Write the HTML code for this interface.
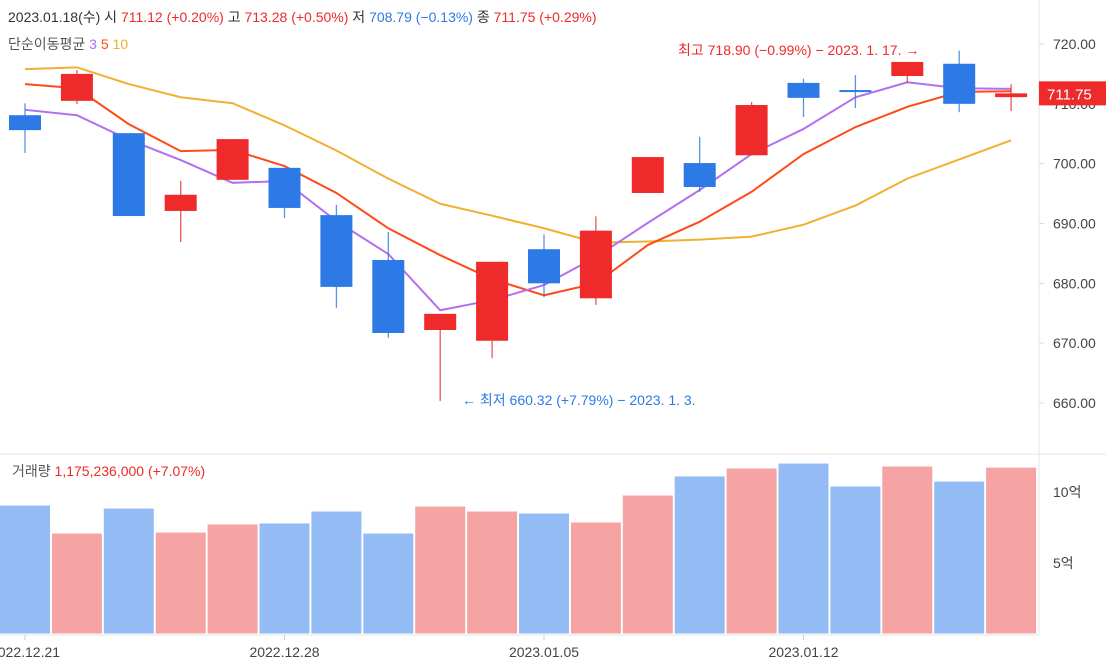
<!DOCTYPE html>
<html><head><meta charset="utf-8"><style>
body{margin:0;background:#fff;}
svg{display:block;font-family:"Liberation Sans","Noto Sans CJK KR",sans-serif;}
</style></head><body>
<svg id="c" width="1106" height="662">
<line x1="0" y1="454" x2="1106" y2="454" stroke="#e6e6e6"/>
<line x1="1039" y1="0" x2="1039" y2="635" stroke="#e6e6e6"/>
<line x1="0" y1="635" x2="1039" y2="635" stroke="#e6e6e6"/>
<g id="vol"></g>
<g id="ma"></g>
<g id="cnd"></g>
<g id="axes"></g>
<text x="8" y="22" font-size="14" fill="#333">2023.01.18(수)  시 <tspan fill="#ee2a2a">711.12 (+0.20%)</tspan> 고 <tspan fill="#ee2a2a">713.28 (+0.50%)</tspan> 저 <tspan fill="#2d7ae6">708.79 (−0.13%)</tspan> 종 <tspan fill="#ee2a2a">711.75 (+0.29%)</tspan></text>
<text x="8" y="49" font-size="14" fill="#555">단순이동평균 <tspan fill="#b070f0">3</tspan> <tspan fill="#ff4a1a">5</tspan> <tspan fill="#f0b030">10</tspan></text>
<text x="12" y="476" font-size="14" fill="#555">거래량  <tspan fill="#ee2a2a">1,175,236,000 (+7.07%)</tspan></text>
<text x="678" y="55" font-size="14" fill="#ee2a2a">최고 718.90 (−0.99%) − 2023. 1. 17. →</text>
<text x="462" y="405" font-size="14" fill="#2d7ae6">← 최저 660.32 (+7.79%) − 2023. 1. 3.</text>
</svg>
<script>
const opens=[708.1,710.5,705.1,692.1,697.3,699.3,691.4,683.9,672.2,670.4,685.7,677.5,695.1,700.1,701.4,713.5,712.3,714.65,716.7,711.12];
const highs=[710.1,715.65,705.1,697.1,704.1,699.3,693.1,688.6,674.9,683.6,688.2,691.2,701.1,704.5,710.3,714.2,714.8,717.0,718.9,713.28];
const lows=[701.8,709.97,691.25,686.9,697.3,690.9,675.9,670.9,660.32,667.5,677.7,676.4,695.1,695.3,701.4,707.8,709.3,713.5,708.6,708.79];
const closes=[705.6,715.0,691.25,694.8,704.1,692.6,679.4,671.7,674.9,683.6,680.0,688.8,701.1,696.1,709.8,711.0,712.0,717.0,710.0,711.75];
const ma3=[709.0,708.1,704.0,700.6,696.8,697.1,690.4,684.9,675.5,677.2,679.7,684.4,690.1,695.6,701.6,705.8,711.1,713.6,712.6,712.5];
const ma5=[713.3,712.6,706.6,702.1,702.3,699.6,695.1,689.2,684.7,680.7,678.0,680.0,686.4,690.3,695.3,701.6,706.1,709.5,712.0,712.1];
const ma10=[715.8,716.1,713.3,711.1,710.1,706.4,702.2,697.5,693.3,691.3,689.2,686.8,687.0,687.3,687.8,689.8,693.0,697.5,700.7,703.9];
const volumes=[9.08,7.11,8.87,7.18,7.75,7.82,8.66,7.11,9.01,8.66,8.52,7.89,9.79,11.13,11.69,12.04,10.42,11.83,10.77,11.75];
const priceTicks=[720,710,700,690,680,670,660];
const volTicks=[10,5];
const dateLabels=[[0,"2022.12.21"],[5,"2022.12.28"],[10,"2023.01.05"],[15,"2023.01.12"]];
const NS="http://www.w3.org/2000/svg";
const X=i=>25+i*51.9;
const Y=v=>44+(720-v)*5.983;
const VY=v=>634-v*14.2;
function mk(tag,attrs,parent){const e=document.createElementNS(NS,tag);for(const k in attrs)e.setAttribute(k,attrs[k]);parent.appendChild(e);return e;}
const vol=document.getElementById('vol'),cnd=document.getElementById('cnd'),ma=document.getElementById('ma'),ax=document.getElementById('axes');
const RED="#ee2a2a",BLUE="#2d7ae6";
volumes.forEach((v,i)=>{const up=closes[i]>=opens[i];
 const r=mk('rect',{x:X(i)-25.5,y:VY(v),width:51,height:634-VY(v),fill:up?"#f6a3a3":"#93bcf5",stroke:"#fff","stroke-width":1},vol);
 
 });
[[ma10,"#f0b030"],[ma5,"#ff4a1a"],[ma3,"#b070f0"]].forEach(([arr,c],k)=>{
 const p=mk('polyline',{points:arr.map((v,i)=>X(i)+","+Y(v)).join(" "),fill:"none",stroke:c,"stroke-width":2},ma);
 
 });
opens.forEach((o,i)=>{const c=closes[i],up=c>=o,col=up?RED:BLUE,x=X(i);
 const w=mk('line',{x1:x,x2:x,y1:Y(highs[i]),y2:Y(lows[i]),stroke:col,"stroke-width":1.3,opacity:0.8},cnd);
 
 
 const top=Y(Math.max(o,c)),h=Math.max(2,Math.abs(Y(o)-Y(c)));
 const b=mk('rect',{x:x-16,y:top,width:32,height:h,fill:col},cnd);
 
 });
priceTicks.forEach(v=>{const t=mk('text',{x:1053,y:Y(v)+5,"font-size":14,fill:"#444"},ax);t.textContent=v.toFixed(2);
 
 
 mk('line',{x1:1039,x2:1044,y1:Y(v),y2:Y(v),stroke:"#ddd"},ax);});
volTicks.forEach(v=>{const t=mk('text',{x:1053,y:VY(v)+5,"font-size":14,fill:"#444"},ax);t.textContent=v+"억";
 
 });
dateLabels.forEach(([i,s])=>{mk('line',{x1:X(i),x2:X(i),y1:635,y2:640,stroke:"#ccc"},ax);
 const t=mk('text',{x:X(i),y:657,"font-size":14,fill:"#444","text-anchor":"middle"},ax);t.textContent=s;
 
 });
const last=closes[closes.length-1];
const lb=mk('rect',{x:1039,y:Y(last)-12,width:67,height:24,fill:RED},ax);


const lt=mk('text',{x:1047,y:Y(last)+6,"font-size":15,fill:"#fff"},ax);lt.textContent=last.toFixed(2);


</script>
</body></html>
